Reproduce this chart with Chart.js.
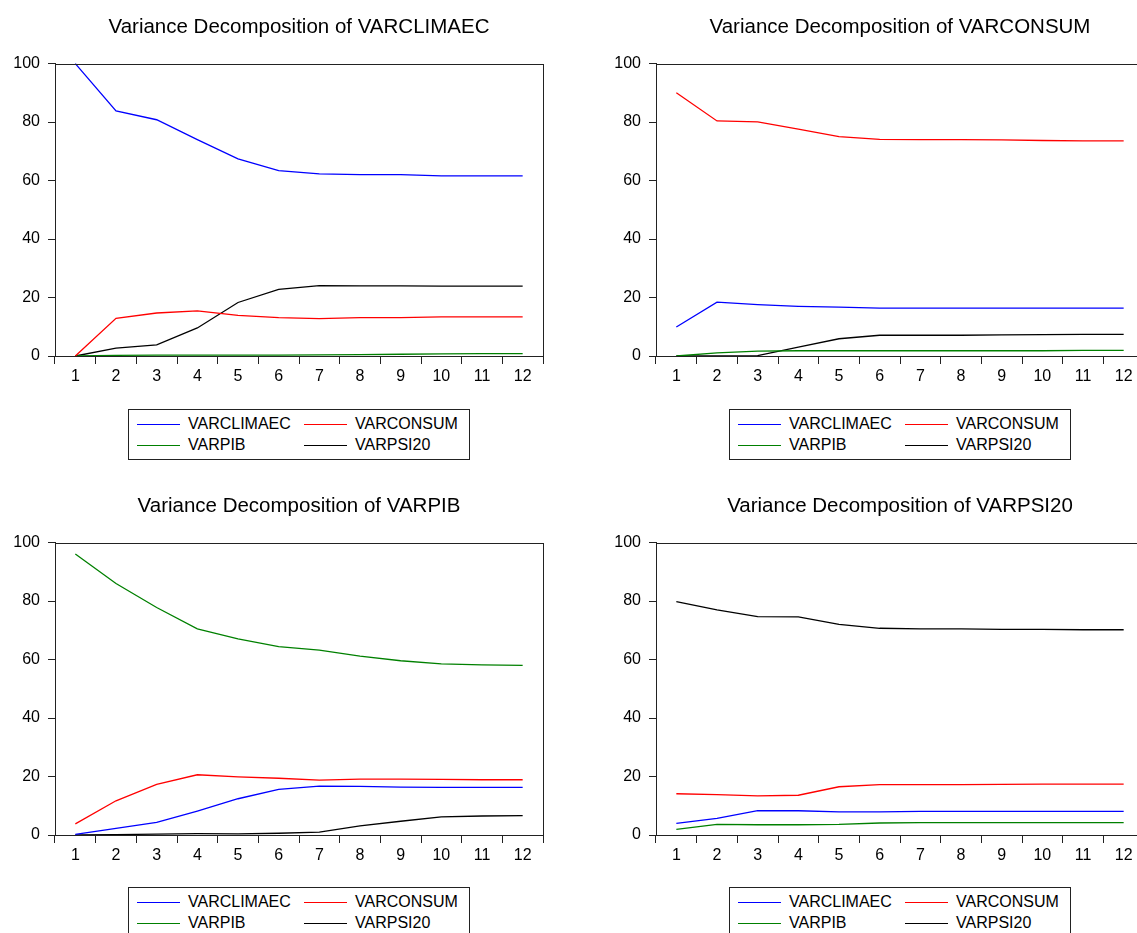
<!DOCTYPE html>
<html>
<head>
<meta charset="utf-8">
<title>Variance Decomposition</title>
<script src="https://cdn.jsdelivr.net/npm/chart.js@4.4.1/dist/chart.umd.min.js"></script>
<style>
  html, body { margin: 0; padding: 0; background: #fff; overflow: hidden; }
  body { width: 1137px; height: 933px; position: relative; font-family: Arial, "Liberation Sans", sans-serif; }
  canvas { position: absolute; }
  .legend {
    position: absolute; width: 340px; height: 49px;
    border: 1px solid #222; background: #fff;
  }
  .legend .item { position: absolute; font-size: 16px; color: #000; line-height: 18px; white-space: nowrap; }
  .legend .swatch { position: absolute; width: 43px; height: 0; border-top: 1px solid; }
</style>
</head>
<body>
<canvas id="chart-climaec" width="560" height="400" style="left:0;top:0"></canvas>
<canvas id="chart-consum" width="600" height="400" style="left:600px;top:0"></canvas>
<canvas id="chart-pib" width="560" height="400" style="left:0;top:479px"></canvas>
<canvas id="chart-psi20" width="600" height="400" style="left:600px;top:479px"></canvas>
<div class="legend" id="legend-climaec" style="left:128px;top:409px"></div>
<div class="legend" id="legend-consum" style="left:729px;top:409px"></div>
<div class="legend" id="legend-pib" style="left:128px;top:887px"></div>
<div class="legend" id="legend-psi20" style="left:729px;top:887px"></div>

<script>
// =============================================
// Dados
// =============================================

const periods = ['1', '2', '3', '4', '5', '6', '7', '8', '9', '10', '11', '12'];
const seriesNames = ['VARCLIMAEC', 'VARCONSUM', 'VARPIB', 'VARPSI20'];
const seriesColors = ['#0000ff', '#ff0000', '#008000', '#000000'];

// Variance Decomposition of VARCLIMAEC
const climaecByClimaec = [100, 83.8, 80.8, 74.0, 67.4, 63.4, 62.3, 62.0, 62.0, 61.6, 61.6, 61.6];
const climaecByConsum  = [0, 12.9, 14.7, 15.4, 13.9, 13.1, 12.8, 13.1, 13.1, 13.4, 13.4, 13.4];
const climaecByPib     = [0, 0.2, 0.3, 0.3, 0.3, 0.3, 0.4, 0.5, 0.6, 0.7, 0.8, 0.8];
const climaecByPsi20   = [0, 2.7, 3.8, 9.6, 18.3, 22.8, 24.1, 24.0, 24.0, 23.9, 23.9, 23.9];

// Variance Decomposition of VARCONSUM
const consumByClimaec = [9.9, 18.4, 17.6, 17.0, 16.7, 16.4, 16.4, 16.4, 16.4, 16.4, 16.4, 16.4];
const consumByConsum  = [90.0, 80.4, 80.1, 77.6, 75.0, 74.1, 74.0, 74.0, 73.9, 73.7, 73.6, 73.6];
const consumByPib     = [0, 1.1, 1.7, 1.8, 1.8, 1.8, 1.8, 1.8, 1.8, 1.8, 1.9, 1.9];
const consumByPsi20   = [0, 0, 0.1, 3.0, 5.9, 7.1, 7.1, 7.1, 7.2, 7.3, 7.4, 7.4];

// Variance Decomposition of VARPIB
const pibByClimaec = [0.2, 2.3, 4.3, 8.2, 12.4, 15.6, 16.7, 16.6, 16.4, 16.3, 16.3, 16.3];
const pibByConsum  = [3.8, 11.7, 17.3, 20.6, 19.9, 19.4, 18.8, 19.1, 19.1, 19.0, 18.9, 18.9];
const pibByPib     = [96.1, 86.0, 77.8, 70.5, 67.1, 64.4, 63.2, 61.2, 59.6, 58.5, 58.2, 58.0];
const pibByPsi20   = [0, 0.1, 0.3, 0.5, 0.4, 0.6, 1.0, 3.1, 4.7, 6.2, 6.5, 6.6];

// Variance Decomposition of VARPSI20
const psi20ByClimaec = [4.0, 5.7, 8.3, 8.3, 7.9, 7.9, 8.1, 8.1, 8.1, 8.1, 8.1, 8.1];
const psi20ByConsum  = [14.1, 13.8, 13.4, 13.6, 16.5, 17.2, 17.2, 17.2, 17.3, 17.4, 17.4, 17.4];
const psi20ByPib     = [1.9, 3.6, 3.5, 3.5, 3.6, 4.1, 4.2, 4.2, 4.2, 4.2, 4.2, 4.2];
const psi20ByPsi20   = [79.8, 77.0, 74.7, 74.6, 72.0, 70.7, 70.5, 70.5, 70.3, 70.3, 70.2, 70.2];

const yTicks = [0, 20, 40, 60, 80, 100];

const panels = [
  { id: 'climaec', title: 'Variance Decomposition of VARCLIMAEC', axisWidth: 55, padRight: 17,
    series: [climaecByClimaec, climaecByConsum, climaecByPib, climaecByPsi20] },
  { id: 'consum', title: 'Variance Decomposition of VARCONSUM', axisWidth: 56, padRight: 56,
    series: [consumByClimaec, consumByConsum, consumByPib, consumByPsi20] },
  { id: 'pib', title: 'Variance Decomposition of VARPIB', axisWidth: 55, padRight: 17,
    series: [pibByClimaec, pibByConsum, pibByPib, pibByPsi20] },
  { id: 'psi20', title: 'Variance Decomposition of VARPSI20', axisWidth: 56, padRight: 56,
    series: [psi20ByClimaec, psi20ByConsum, psi20ByPib, psi20ByPsi20] },
];

const FONT = 'Arial, "Liberation Sans", sans-serif';

// moldura em volta da área do gráfico
const framePlugin = {
  id: 'frame',
  afterDraw(chart) {
    const { ctx, chartArea: a } = chart;
    ctx.save();
    ctx.strokeStyle = '#222';
    ctx.lineWidth = 1;
    const l = Math.round(a.left) + 0.5, t = Math.round(a.top) + 0.5;
    ctx.strokeRect(l, t, Math.round(a.right) - Math.round(a.left), Math.round(a.bottom) - Math.round(a.top));
    ctx.restore();
  }
};

// =============================================
// Legenda HTML (caixa com 2 colunas)
// =============================================

function renderLegend(chart, id) {
  const box = document.getElementById('legend-' + id);
  const spots = [
    { sx: 8, tx: 59, y: 14 }, { sx: 175, tx: 226, y: 14 },
    { sx: 8, tx: 59, y: 35 }, { sx: 175, tx: 226, y: 35 },
  ];
  box.innerHTML = chart.data.datasets.map((ds, i) => {
    const p = spots[i];
    return `<div class="swatch" style="left:${p.sx}px;top:${p.y}px;border-color:${ds.borderColor}"></div>` +
           `<div class="item" style="left:${p.tx}px;top:${p.y - 9}px">${ds.label}</div>`;
  }).join('');
}

// =============================================
// Criar os 4 gráficos
// =============================================

panels.forEach(p => {
  const datasets = p.series.map((values, i) => ({
    label: seriesNames[i],
    data: values,
    borderColor: seriesColors[i],
    backgroundColor: seriesColors[i],
    borderWidth: 1.3,
    pointRadius: 0,
    tension: 0,
    clip: 4,
  }));

  const chart = new Chart(document.getElementById('chart-' + p.id), {
    type: 'line',
    data: { labels: periods, datasets },
    plugins: [framePlugin],
    options: {
      responsive: false,
      animation: false,
      events: [],
      layout: { padding: { left: 0, right: p.padRight, top: 0, bottom: 0 } },
      plugins: {
        legend: { display: false },
        tooltip: { enabled: false },
        title: {
          display: true,
          text: p.title,
          fullSize: false,
          color: '#000',
          font: { family: FONT, size: 20.5, weight: 'normal' },
          padding: { top: 15, bottom: 24 },
        }
      },
      scales: {
        x: {
          type: 'category',
          offset: true,
          grid: { offset: true, drawOnChartArea: false, drawTicks: true, tickLength: 8, color: '#222' },
          border: { display: true, color: '#222' },
          ticks: { color: '#000', font: { family: FONT, size: 16 }, padding: 3, autoSkip: false, maxRotation: 0 },
          afterFit: s => { s.height = 44; },
        },
        y: {
          min: 0,
          max: 100,
          afterBuildTicks: s => { s.ticks = yTicks.map(v => ({ value: v })); },
          grid: { drawOnChartArea: false, drawTicks: true, tickLength: 7, color: '#222' },
          border: { display: true, color: '#222' },
          ticks: { color: '#000', font: { family: FONT, size: 16 }, padding: 8 },
          afterFit: s => { s.width = p.axisWidth; },
        }
      }
    }
  });

  renderLegend(chart, p.id);
});
</script>
</body>
</html>
